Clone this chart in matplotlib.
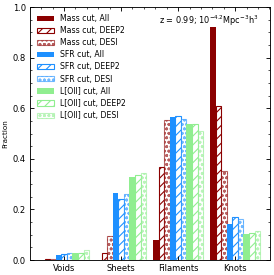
import numpy as np
import matplotlib.pyplot as plt
from matplotlib.ticker import MultipleLocator

plt.rcParams['hatch.linewidth'] = 1.0

envs = ['Voids', 'Sheets', 'Filaments', 'Knots']

mass_all = [0.002, 0.001, 0.079, 0.92]
mass_deep2 = [0.003, 0.026, 0.366, 0.609]
mass_desi = [0.004, 0.096, 0.552, 0.352]
sfr_all = [0.020, 0.265, 0.566, 0.142]
sfr_deep2 = [0.023, 0.242, 0.571, 0.170]
sfr_desi = [0.026, 0.261, 0.556, 0.162]
oii_all = [0.026, 0.330, 0.538, 0.103]
oii_deep2 = [0.027, 0.335, 0.538, 0.107]
oii_desi = [0.040, 0.342, 0.510, 0.115]

series = [
    ('Mass cut, All', mass_all, 'darkred', 'all'),
    ('Mass cut, DEEP2', mass_deep2, 'darkred', 'deep2'),
    ('Mass cut, DESI', mass_desi, 'darkred', 'desi'),
    ('SFR cut, All', sfr_all, 'dodgerblue', 'all'),
    ('SFR cut, DEEP2', sfr_deep2, 'dodgerblue', 'deep2'),
    ('SFR cut, DESI', sfr_desi, 'dodgerblue', 'desi'),
    ('L[OII] cut, All', oii_all, 'lightgreen', 'all'),
    ('L[OII] cut, DEEP2', oii_deep2, 'lightgreen', 'deep2'),
    ('L[OII] cut, DESI', oii_desi, 'lightgreen', 'desi'),
]

fig = plt.figure(figsize=[274/80, 275/80], dpi=80)
ax = fig.add_axes([0.109, 0.0545, 0.876, 0.92])

x = np.arange(len(envs))
w = 0.098
for i, (lab, vals, col, kind) in enumerate(series):
    xs = x + (i - 4) * w
    if kind == 'all':
        ax.bar(xs, vals, w, color=col, edgecolor=col, linewidth=0, label=lab)
    elif kind == 'deep2':
        ax.bar(xs, vals, w, facecolor='white', edgecolor=col, hatch='///',
               linewidth=1.0, label=lab)
    else:
        ax.bar(xs, vals, w, facecolor='white', edgecolor=col, hatch='ooo',
               linewidth=1.0, alpha=0.6, label=lab)

ax.set_xlim(-0.6, 3.61)
ax.set_ylim(0, 1.0)
ax.set_xticks(x)
ax.set_xticklabels(envs, fontsize=7.5)
ax.xaxis.set_minor_locator(MultipleLocator(0.2))
ax.yaxis.set_major_locator(MultipleLocator(0.2))
ax.yaxis.set_minor_locator(MultipleLocator(0.05))
ax.tick_params(axis='both', which='both', direction='in', top=True, right=True,
               labelsize=7.5)
ax.tick_params(which='major', length=4)
ax.tick_params(which='minor', length=2)
ax.tick_params(axis='x', which='minor', bottom=False)
ax.set_ylabel('Fraction', fontsize=6.5)
ax.text(0.952, 0.975, r'z = 0.99; $10^{-4.2}$Mpc$^{-3}$h$^3$', transform=ax.transAxes,
        ha='right', va='top', fontsize=7.3)
ax.legend(loc='upper left', frameon=False, fontsize=7, handlelength=2.2,
          handleheight=0.65, labelspacing=0.4, borderaxespad=0.5)

plt.savefig('out.png', dpi=80)
